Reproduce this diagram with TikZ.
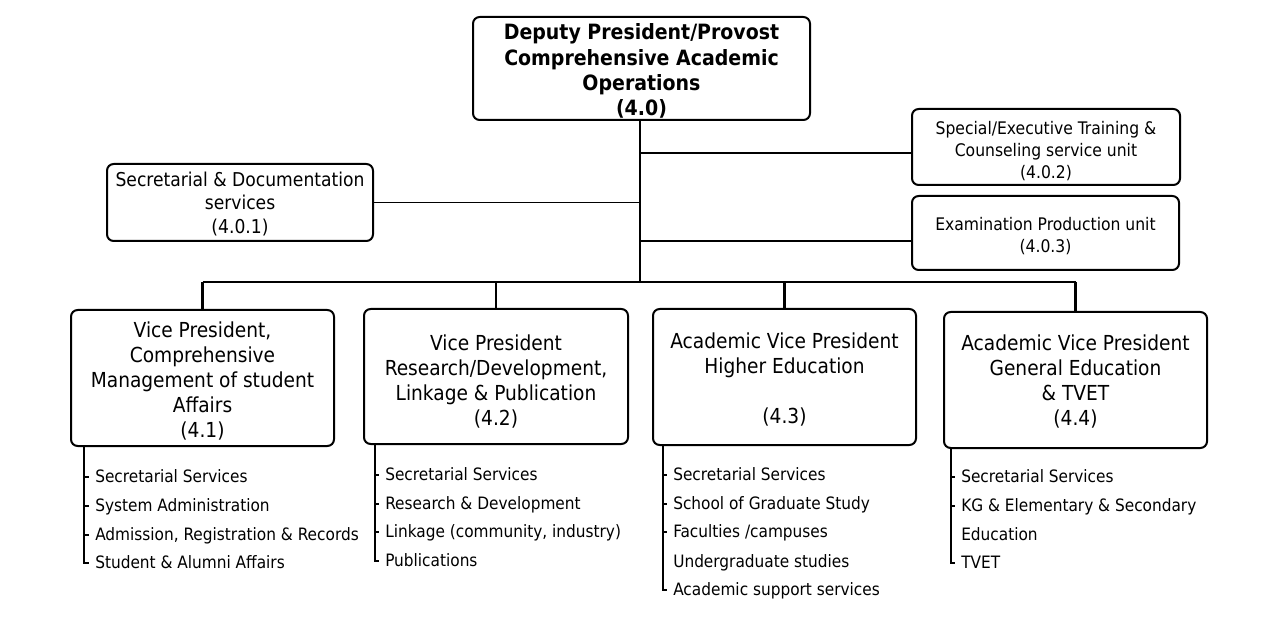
\documentclass[tikz,border=0pt]{standalone}
\usepackage{fontspec}
\setmainfont{DejaVu Sans Condensed}
\begin{document}
\begin{tikzpicture}[x=0.75pt,y=-0.75pt,
  box/.style={draw,line width=1.5pt,rounded corners=5pt,inner sep=0pt},
  txt/.style={align=center,inner sep=0pt},
  topfont/.style={font=\fontsize{15.8}{18.9}\selectfont\bfseries},
  vpfont/.style={font=\fontsize{15.5}{18.75}\selectfont},
  secfont/.style={font=\fontsize{14.3}{17.6}\selectfont},
  unitfont/.style={font=\fontsize{13}{16.2}\selectfont},
  item/.style={anchor=base west,inner sep=0pt,font=\fontsize{12.8}{15}\selectfont},
  trunk/.style={line width=1.9pt},
  branch/.style={line width=1pt},
  tree/.style={line width=0.8pt}]
\useasboundingbox (0,0) rectangle (1280,630);
\fill[white] (0,0) rectangle (1280,630);

% boxes
\node[box,minimum width={337*0.75pt},minimum height={103*0.75pt}] (top) at (641.5,68.5) {};
\node[txt,topfont] (topt) at ([yshift=-2pt]top.center)
  {Deputy President/Provost\\Comprehensive Academic\\Operations\\(4.0)};
\node[box,minimum width={266*0.75pt},minimum height={77*0.75pt}] (sec) at (240,202.5) {};
\node[txt,secfont] (sect) at ([yshift=-1pt]sec.center)
  {Secretarial \& Documentation\\services\\(4.0.1)};
\node[box,minimum width={268*0.75pt},minimum height={76*0.75pt}] (spec) at (1046,147) {};
\node[txt,unitfont] (spect) at ([yshift=-3pt]spec.center)
  {Special/Executive Training \&\\Counseling service unit\\(4.0.2)};
\node[box,minimum width={267*0.75pt},minimum height={74*0.75pt}] (exam) at (1045.5,233) {};
\node[txt,unitfont] (examt) at ([yshift=-2.5pt]exam.center)
  {Examination Production unit\\(4.0.3)};
\node[box,minimum width={263*0.75pt},minimum height={136*0.75pt}] (vp1) at (202.5,378) {};
\node[txt,vpfont] (vp1t) at ([yshift=-2pt]vp1.center)
  {Vice President,\\Comprehensive\\Management of student\\Affairs\\(4.1)};
\node[box,minimum width={264*0.75pt},minimum height={135*0.75pt}] (vp2) at (496,376.5) {};
\node[txt,vpfont] (vp2t) at ([yshift=-4pt]vp2.center)
  {Vice President\\Research/Development,\\Linkage \& Publication\\(4.2)};
\node[box,minimum width={263*0.75pt},minimum height={136*0.75pt}] (vp3) at (784.5,377) {};
\node[txt,vpfont] (vp3t) at ([yshift=-2pt]vp3.center)
  {Academic Vice President\\Higher Education\\[18.75pt](4.3)};
\node[box,minimum width={263*0.75pt},minimum height={136*0.75pt}] (vp4) at (1075.5,380) {};
\node[txt,vpfont] (vp4t) at ([yshift=-1pt]vp4.center)
  {Academic Vice President\\General Education\\\& TVET\\(4.4)};

% connectors
\coordinate (j) at (640,282);
\coordinate (cspec) at (912,153);
\coordinate (cexam) at (912,241);
\draw[trunk] (top.south -| j) -- (j);
\draw[branch] (sec.east) -- (sec.east -| j);
\draw[branch] (cspec -| j) -- (cspec);
\draw[branch] (cexam -| j) -- (cexam);
\draw[trunk] (vp1.north |- j) -- (vp4.north |- j);
\foreach \v in {vp1,vp2,vp3,vp4} \draw[trunk] (\v.north |- j) -- (\v.north);

% lists (baseline = item centre + 5px)
\node[item] (a1) at (95,482) {Secretarial Services};
\node[item] (a2) at (95,511) {System Administration};
\node[item] (a3) at (95,540) {Admission, Registration \& Records};
\node[item] (a4) at (95,568) {Student \& Alumni Affairs};
\node[item] (b1) at (385,480) {Secretarial Services};
\node[item] (b2) at (385,509) {Research \& Development};
\node[item] (b3) at (385,537) {Linkage (community, industry)};
\node[item] (b4) at (385,566) {Publications};
\node[item] (c1) at (673,480) {Secretarial Services};
\node[item] (c2) at (673,509) {School of Graduate Study};
\node[item] (c3) at (673,537) {Faculties /campuses};
\node[item] (c4) at (673,567) {Undergraduate studies};
\node[item] (c5) at (673,595) {Academic support services};
\node[item] (d1) at (961,482) {Secretarial Services};
\node[item] (d2) at (961,511) {KG \& Elementary \& Secondary};
\node[item] (d3) at (961,540) {Education};
\node[item] (d4) at (961,568) {TVET};

\coordinate (la) at (84,0);
\coordinate (lb) at (375,0);
\coordinate (lc) at (663,0);
\coordinate (ld) at (951,0);
\tikzset{tk/.style={xshift=-4.5pt,yshift=3.75pt}}
\draw[tree] (vp1.south -| la) |- ([tk]a4.base west);
\foreach \n in {a1,a2,a3} \draw[tree] ([yshift=3.75pt]\n.base west -| la) -- ([tk]\n.base west);
\draw[tree] (vp2.south -| lb) |- ([tk]b4.base west);
\foreach \n in {b1,b2,b3} \draw[tree] ([yshift=3.75pt]\n.base west -| lb) -- ([tk]\n.base west);
\draw[tree] (vp3.south -| lc) |- ([tk]c5.base west);
\foreach \n in {c1,c2,c3} \draw[tree] ([yshift=3.75pt]\n.base west -| lc) -- ([tk]\n.base west);
\draw[tree] (vp4.south -| ld) |- ([tk]d4.base west);
\foreach \n in {d1,d2} \draw[tree] ([yshift=3.75pt]\n.base west -| ld) -- ([tk]\n.base west);
\end{tikzpicture}
\end{document}
